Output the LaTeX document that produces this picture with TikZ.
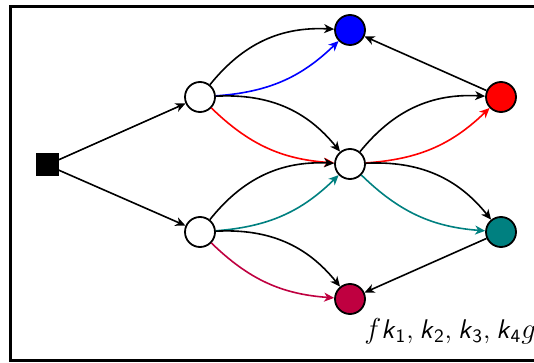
\documentclass[tikz,border=0pt]{standalone}
\usetikzlibrary{arrows.meta}
\definecolor{cteal}{RGB}{0,128,128}
\definecolor{cpurple}{RGB}{191,0,64}
\newcommand{\kk}[1]{\textsf{\slshape k}\textsubscript{\sffamily #1}}
\newcommand{\cs}{,\hspace{0.22em}}
\begin{document}
\begin{tikzpicture}[x=0.5pt,y=-0.5pt,
  vtx/.style={circle,draw,line width=0.9pt,minimum size=15pt,inner sep=0pt,fill=white},
  src/.style={rectangle,fill=black,minimum size=11.5pt,inner sep=0pt},
  arr/.style={line width=0.8pt,-{Stealth[length=5pt,width=4.5pt,inset=1.5pt]}},
  bl/.style={bend left=27},
  br/.style={bend right=20}]
\useasboundingbox (0,0) rectangle (534,363);
\clip (0,0) rectangle (534,363);
\draw[line width=1.5pt] (10.5,6.5) rectangle (580,360.5);
\node[src] (s) at (47,165) {};
\node[vtx] (u) at (200,97) {};
\node[vtx] (l) at (200,232) {};
\node[vtx] (m) at (350,164) {};
\node[vtx,fill=blue] (b) at (350,30) {};
\node[vtx,fill=red] (r) at (501,97) {};
\node[vtx,fill=cteal] (t) at (501,232) {};
\node[vtx,fill=cpurple] (p) at (350,299) {};
\draw[arr] (s) -- (u);
\draw[arr] (s) -- (l);
\draw[arr] (u) to[bl] (b);
\draw[arr,blue] (u) to[br] (b);
\draw[arr] (u) to[bl] (m);
\draw[arr,red] (u) to[br] (m);
\draw[arr] (l) to[bl] (m);
\draw[arr,cteal] (l) to[br] (m);
\draw[arr] (l) to[bl] (p);
\draw[arr,cpurple] (l) to[br] (p);
\draw[arr] (m) to[bl] (r);
\draw[arr,red] (m) to[br] (r);
\draw[arr] (m) to[bl] (t);
\draw[arr,cteal] (m) to[br] (t);
\draw[arr] (r) -- (b);
\draw[arr] (t) -- (p);
\node[anchor=base west,inner sep=0pt,font=\fontsize{13.5}{16}\selectfont] (lbl) at (364,338) {$f$\kk{1}\cs\kk{2}\cs\kk{3}\cs\kk{4}$g$};
\end{tikzpicture}
\end{document}
